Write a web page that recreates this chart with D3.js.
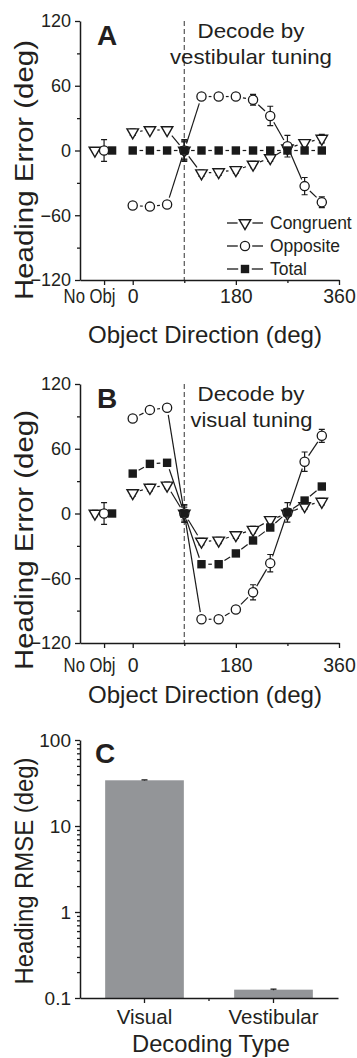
<!DOCTYPE html>
<html>
<head>
<meta charset="utf-8">
<script src="https://cdn.jsdelivr.net/npm/d3@7"></script>
<style>
  body { margin: 0; background: #fff; }
  text { font-family: "Liberation Sans", Arial, sans-serif; fill: #231f20; }
</style>
</head>
<body>
<script>
// object directions, first entry is the "No Obj" condition
const directions = ["No Obj", 0, 30, 60, 90, 120, 150, 180, 210, 240, 270, 300, 330];

// A: decode by vestibular tuning
const congruentA    = [0, 17, 19, 19, 0, -21, -20, -18, -13, -7, 2, 7, 11];
const congruentAErr = [2, 3, 2, 2, 8, 3, 3, 3, 3, 3, 4, 3, 4];
const oppositeA     = [0, -51, -52, -50, 0, 50, 50, 50, 47, 32, 4, -33, -48];
const oppositeAErr  = [10, 3, 2, 2, 10, 2, 2, 2, 5, 9, 10, 8, 5];
const totalA        = [0, 0, 0, 0, 0, 0, 0, 0, 0, 0, 0, 0, 0];
const totalAErr     = [1, 1, 1, 1, 9, 1, 1, 1, 1, 1, 1, 1, 1];

// B: decode by visual tuning
const congruentB    = [0, 19, 24, 26, 0, -26, -25, -20, -15, -6, 0, 7, 11];
const congruentBErr = [3, 3, 3, 3, 6, 3, 3, 3, 3, 3, 3, 3, 3];
const oppositeB     = [0, 88, 96, 98, 0, -98, -98, -89, -73, -46, 1, 48, 72];
const oppositeBErr  = [10, 2, 2, 2, 8, 2, 2, 3, 7, 8, 9, 9, 6];
const totalB        = [0, 37, 46, 47, 0, -47, -47, -37, -25, -13, 1, 12, 25];
const totalBErr     = [1.5, 1.5, 1.5, 1.5, 8, 1.5, 1.5, 1.5, 1.5, 1.5, 1.5, 1.5, 1.5];

// C: RMSE by decoding type
const decodingTypes = ["Visual", "Vestibular"];
const rmse    = [34, 0.125];
const rmseErr = [0.4, 0.002];

const xTickValues = [-50, 0, 180, 360];
const xTickLabels = ["No Obj", "0", "180", "360"];
const yTicksAB = [-120, -60, 0, 60, 120];
const yMinorAB = [-90, -30, 30, 90];
const yTicksC = [0.1, 1, 10, 100];
const seriesNames = ["Congruent", "Opposite", "Total"];

const width = 357, height = 1058;
const ink = "#1a1a1a";

const svg = d3.select("body").append("svg")
  .attr("width", width)
  .attr("height", height);

// where the No Obj markers sit, in degrees on the x scale
const noObjPos = { Congruent: -66, Opposite: -50, Total: -36 };

function text(g, str, x, y, size, opts = {}) {
  const t = g.append("text")
    .attr("x", x).attr("y", y)
    .attr("font-size", size)
    .attr("text-anchor", opts.anchor || "middle")
    .text(str);
  if (opts.bold) t.attr("font-weight", "bold");
  if (opts.len) t.attr("textLength", opts.len).attr("lengthAdjust", "spacingAndGlyphs");
  if (opts.rotate) t.attr("transform", `rotate(-90, ${x}, ${y})`);
  return t;
}

function marker(g, kind, cx, cy) {
  if (kind === "Opposite") {
    g.append("circle").attr("cx", cx).attr("cy", cy).attr("r", 4.6)
      .attr("fill", "#fff").attr("stroke", ink).attr("stroke-width", 1.3);
  } else if (kind === "Total") {
    g.append("rect").attr("x", cx - 4.2).attr("y", cy - 4.2)
      .attr("width", 8.4).attr("height", 8.4).attr("fill", ink);
  } else {
    const s = 11.5, h = s * 0.866;
    g.append("path")
      .attr("d", `M${cx - s / 2},${cy - h / 3}L${cx + s / 2},${cy - h / 3}L${cx},${cy + 2 * h / 3}Z`)
      .attr("fill", "#fff").attr("stroke", ink).attr("stroke-width", 1.4)
      .attr("stroke-linejoin", "miter");
  }
}

function gapLine(g, x1, y1, x2, y2, gap) {
  const dx = x2 - x1, dy = y2 - y1;
  const len = Math.sqrt(dx * dx + dy * dy);
  if (len <= gap * 2) return;
  const ux = dx / len, uy = dy / len;
  g.append("line")
    .attr("x1", x1 + ux * gap).attr("y1", y1 + uy * gap)
    .attr("x2", x2 - ux * gap).attr("y2", y2 - uy * gap)
    .attr("stroke", ink).attr("stroke-width", 1.2);
}

function drawPanel(cfg) {
  const g = svg.append("g");
  const x = d3.scaleLinear().domain([-92, 360]).range([80, 339]);
  const y = d3.scaleLinear().domain([-120, 120]).range([cfg.bottom, cfg.top]);

  // dashed line at 90 deg
  g.append("line")
    .attr("x1", x(90)).attr("x2", x(90))
    .attr("y1", cfg.top).attr("y2", cfg.bottom)
    .attr("stroke", "#555").attr("stroke-width", 1.2)
    .attr("stroke-dasharray", "5,3");

  // axes
  const yAxis = g.append("g")
    .attr("transform", "translate(80,0)")
    .call(d3.axisLeft(y).tickValues(yTicksAB).tickSize(5).tickSizeOuter(0).tickPadding(4));
  g.append("g")
    .attr("transform", "translate(80,0)")
    .call(d3.axisLeft(y).tickValues(yMinorAB).tickSize(3).tickFormat(""))
    .call(a => a.select(".domain").remove());

  const xAxis = g.append("g")
    .attr("transform", `translate(0,${cfg.bottom})`)
    .call(d3.axisBottom(x).tickValues(xTickValues).tickSize(5).tickSizeOuter(0)
      .tickPadding(cfg.xPad).tickFormat((d, i) => xTickLabels[i]));
  g.append("g")
    .attr("transform", `translate(0,${cfg.bottom})`)
    .call(d3.axisBottom(x).tickValues([90, 270]).tickSize(3).tickFormat(""))
    .call(a => a.select(".domain").remove());

  g.selectAll(".domain").attr("stroke", ink).attr("stroke-width", 1.5);
  g.selectAll(".tick line").attr("stroke", ink).attr("stroke-width", 1.3);
  yAxis.selectAll("text").attr("font-size", 18).attr("fill", "#231f20");
  xAxis.selectAll("text").attr("font-size", 19.5).attr("fill", "#231f20");
  xAxis.selectAll("text").filter((d, i) => i === 0)
    .attr("text-anchor", "end").attr("x", 11)
    .attr("textLength", 52).attr("lengthAdjust", "spacingAndGlyphs");

  const series = [
    { name: "Congruent", vals: cfg.cong, err: cfg.congErr, r: 4.8 },
    { name: "Opposite", vals: cfg.opp, err: cfg.oppErr, r: 4.6 },
    { name: "Total", vals: cfg.tot, err: cfg.totErr, r: 4.2 }
  ];
  const px = (s, i) => i === 0 ? x(noObjPos[s.name]) : x(directions[i]);

  // connecting lines (with a gap around each symbol)
  series.forEach(s => {
    for (let i = 1; i < directions.length - 1; i++) {
      gapLine(g, px(s, i), y(s.vals[i]), px(s, i + 1), y(s.vals[i + 1]), s.r + 2.6);
    }
  });

  // error bars
  series.forEach(s => {
    s.vals.forEach((v, i) => {
      const cx = px(s, i), e = s.err[i];
      g.append("path")
        .attr("d", `M${cx},${y(v - e)}V${y(v + e)}M${cx - 3},${y(v - e)}H${cx + 3}M${cx - 3},${y(v + e)}H${cx + 3}`)
        .attr("stroke", ink).attr("stroke-width", 1.2).attr("fill", "none");
    });
  });

  // symbols
  series.forEach(s => {
    s.vals.forEach((v, i) => marker(g, s.name, px(s, i), y(v)));
  });

  // panel letter and annotation
  text(g, cfg.letter, 97, cfg.top + 24, 28, { anchor: "start", bold: true });
  text(g, "Decode by", 251, cfg.note1, 21, { len: 107 });
  text(g, cfg.noteText, cfg.note2x, cfg.note2, 21, { len: cfg.note2len });

  // axis titles
  text(g, "Heading Error (deg)", 33, cfg.yTitleMid, 25, { rotate: true, len: 260 });
  text(g, "Object Direction (deg)", 205, cfg.xTitle, 24, { len: 234 });

  return g;
}

const gA = drawPanel({
  letter: "A", top: 21, bottom: 280, xPad: 4,
  cong: congruentA, congErr: congruentAErr,
  opp: oppositeA, oppErr: oppositeAErr,
  tot: totalA, totErr: totalAErr,
  note1: 38, note2: 64, noteText: "vestibular tuning", note2x: 251, note2len: 162,
  yTitleMid: 170, xTitle: 343
});

// legend in panel A
seriesNames.forEach((name, i) => {
  const ly = 223 + i * 23;
  const r = [4.8, 4.6, 4.2][i] + 2.6;
  gA.append("line").attr("x1", 227).attr("x2", 245 - r).attr("y1", ly).attr("y2", ly)
    .attr("stroke", ink).attr("stroke-width", 1.3);
  gA.append("line").attr("x1", 245 + r).attr("x2", 263).attr("y1", ly).attr("y2", ly)
    .attr("stroke", ink).attr("stroke-width", 1.3);
  marker(gA, name, 245, ly);
  text(gA, name, 270, ly + 6, 17.5, { anchor: "start" });
});

drawPanel({
  letter: "B", top: 384, bottom: 643, xPad: 10,
  cong: congruentB, congErr: congruentBErr,
  opp: oppositeB, oppErr: oppositeBErr,
  tot: totalB, totErr: totalBErr,
  note1: 401, note2: 427, noteText: "visual tuning", note2x: 251.5, note2len: 122,
  yTitleMid: 540, xTitle: 703
});

// panel C: log-scale bar chart
const gC = svg.append("g");
const yC = d3.scaleLog().domain([0.1, 100]).range([998, 740]);
const xC = d3.scaleBand().domain(decodingTypes).range([80, 338])
  .paddingInner(0.39).paddingOuter(0.195);

gC.selectAll("rect.bar")
  .data(decodingTypes)
  .enter()
  .append("rect")
  .attr("class", "bar")
  .attr("x", d => xC(d))
  .attr("width", xC.bandwidth())
  .attr("y", (d, i) => yC(rmse[i]))
  .attr("height", (d, i) => yC(0.1) - yC(rmse[i]))
  .attr("fill", "#939598");

decodingTypes.forEach((d, i) => {
  const cx = xC(d) + xC.bandwidth() / 2;
  gC.append("path")
    .attr("d", `M${cx},${yC(rmse[i] - rmseErr[i])}V${yC(rmse[i] + rmseErr[i])}M${cx - 3},${yC(rmse[i] + rmseErr[i])}H${cx + 3}`)
    .attr("stroke", ink).attr("stroke-width", 1.3);
});

const minorC = [];
[0.1, 1, 10].forEach(dec => d3.range(2, 10).forEach(k => minorC.push(dec * k)));

const yAxisC = gC.append("g")
  .attr("transform", "translate(80,0)")
  .call(d3.axisLeft(yC).tickValues(yTicksC).tickSize(5).tickSizeOuter(0).tickPadding(4)
    .tickFormat(d => d3.format("~g")(d)));
gC.append("g")
  .attr("transform", "translate(80,0)")
  .call(d3.axisLeft(yC).tickValues(minorC).tickSize(3).tickFormat(""))
  .call(a => a.select(".domain").remove());

const xAxisC = gC.append("g")
  .attr("transform", "translate(0,998)")
  .call(d3.axisBottom(xC).tickSize(5).tickSizeOuter(0).tickPadding(6));
const midC = (xC(decodingTypes[0]) + xC.bandwidth() + xC(decodingTypes[1])) / 2;
gC.append("line").attr("x1", midC).attr("x2", midC).attr("y1", 998).attr("y2", 1001)
  .attr("stroke", ink).attr("stroke-width", 1.3);

gC.selectAll(".domain").attr("stroke", ink).attr("stroke-width", 1.5);
gC.selectAll(".tick line").attr("stroke", ink).attr("stroke-width", 1.3);
yAxisC.selectAll("text").attr("font-size", 19).attr("fill", "#231f20");
xAxisC.selectAll("text").attr("font-size", 20.5).attr("fill", "#231f20");

text(gC, "C", 95, 763, 28, { anchor: "start", bold: true });
text(gC, "Heading RMSE (deg)", 33, 871, 25, { rotate: true, len: 227 });
text(gC, "Decoding Type", 211, 1052, 24, { len: 158 });
</script>
</body>
</html>
